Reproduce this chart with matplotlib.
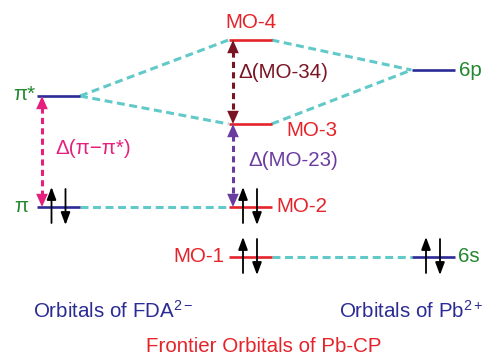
import matplotlib
matplotlib.use("Agg")
import matplotlib.pyplot as plt

plt.rcParams['font.family'] = ['Liberation Sans', 'DejaVu Sans']
plt.rcParams['mathtext.fontset'] = 'custom'
plt.rcParams['mathtext.rm'] = 'Liberation Sans'
plt.rcParams['mathtext.it'] = 'Liberation Sans:italic'

# ---- data (energy units, higher = up) ----
columns = ["FDA", "CP", "Pb"]
column_x = [58.5, 250.0, 433.0]
fda_labels = ["π*", "π"]
fda_levels = [261, 150]
cp_labels = ["MO-4", "MO-3", "MO-2", "MO-1"]
cp_levels = [317, 233, 150, 100]
pb_labels = ["6p", "6s"]
pb_levels = [287, 100]
occupied = [("FDA", 150), ("CP", 150), ("CP", 100), ("Pb", 100)]
# connections (from column, level) -> (to column, level)
links = [(("FDA", 261), ("CP", 317)), (("FDA", 261), ("CP", 233)),
         (("CP", 317), ("Pb", 287)), (("CP", 233), ("Pb", 287)),
         (("FDA", 150), ("CP", 150)), (("CP", 100), ("Pb", 100))]
gaps = [("FDA", 261, 150, "Δ(π−π*)"), ("CP", 317, 233, "Δ(MO-34)"),
        ("CP", 233, 150, "Δ(MO-23)")]

# ---- style ----
RED = "#e5232b"
BLUE = "#2b2b96"
GREEN = "#22882e"
CYAN = "#62c9c9"
PINK = "#e4207c"
DRED = "#7a1422"
PURPLE = "#6b3c9f"
gap_colors = [PINK, DRED, PURPLE]
HALF = 21.5
FS = 14.8

fig = plt.figure(figsize=(4.87, 3.57), dpi=100)
ax = fig.add_axes([0, 0, 1, 1])
ax.set_xlim(0, 487)
ax.set_ylim(0, 357)
ax.axis('off')

cx = dict(zip(columns, column_x))
col_color = {"FDA": BLUE, "CP": RED, "Pb": BLUE}

# connectors
for (c1, e1), (c2, e2) in links:
    ax.plot([cx[c1] + HALF, cx[c2] - HALF], [e1, e2], color=CYAN, lw=2.2,
            dashes=(2.6, 1.5), solid_capstyle='butt', zorder=1)

# levels
for col, levels in (("FDA", fda_levels), ("CP", cp_levels), ("Pb", pb_levels)):
    for e in levels:
        ax.plot([cx[col] - HALF, cx[col] + HALF], [e, e], color=col_color[col],
                lw=1.9, solid_capstyle='butt', zorder=3)

# gap arrows
for (col, e1, e2, lab), c in zip(gaps, gap_colors):
    x = cx[col] - 16.5 if col == "FDA" else cx[col] - 17
    hl = 11
    ax.plot([x, x], [e1 - hl, e2 + hl], color=c, lw=2.2, dashes=(2.0, 1.4),
            solid_capstyle='butt', zorder=2)
    for tip, d in ((e1, 1), (e2, -1)):
        ax.annotate('', xy=(x, tip), xytext=(x, tip - d * (hl + 1)),
                    arrowprops=dict(arrowstyle='-|>,head_length=0.95,head_width=0.42',
                                    lw=0, color=c, shrinkA=0, shrinkB=0),
                    zorder=4)

# electron arrows
for col, e in occupied:
    x0 = cx[col]
    ax.annotate('', xy=(x0 - 7, e + 20), xytext=(x0 - 7, e - 16),
                arrowprops=dict(arrowstyle='-|>,head_length=0.75,head_width=0.28',
                                lw=1.3, color='black', shrinkA=0, shrinkB=0), zorder=5)
    ax.annotate('', xy=(x0 + 7, e - 18), xytext=(x0 + 7, e + 18),
                arrowprops=dict(arrowstyle='-|>,head_length=0.75,head_width=0.28',
                                lw=1.3, color='black', shrinkA=0, shrinkB=0), zorder=5)

# level labels
ax.text(35, 357 - 94, fda_labels[0], color=GREEN, fontsize=FS, ha='right', va='center')
ax.text(28, 357 - 206, fda_labels[1], color=GREEN, fontsize=FS, ha='right', va='center')
ax.text(251, 357 - 23, cp_labels[0], color=RED, fontsize=FS, ha='center', va='center')
ax.text(286, 357 - 131, cp_labels[1], color=RED, fontsize=FS, ha='left', va='center')
ax.text(276, 357 - 206, cp_labels[2], color=RED, fontsize=FS, ha='left', va='center')
ax.text(224, 357 - 257, cp_labels[3], color=RED, fontsize=FS, ha='right', va='center')
ax.text(459, 357 - 70, pb_labels[0], color=GREEN, fontsize=FS, ha='left', va='center')
ax.text(458, 357 - 257, pb_labels[1], color=GREEN, fontsize=FS, ha='left', va='center')

# gap labels
ax.text(55, 357 - 148, gaps[0][3], color=PINK, fontsize=FS, ha='left', va='center')
ax.text(238, 357 - 73, gaps[1][3], color=DRED, fontsize=FS, ha='left', va='center')
ax.text(248, 357 - 160, gaps[2][3], color=PURPLE, fontsize=FS, ha='left', va='center')

# group labels
ax.text(33, 357 - 311, "Orbitals of FDA$^{2-}$", color=BLUE, fontsize=FS, ha='left', va='center')
ax.text(484, 357 - 311, "Orbitals of Pb$^{2+}$", color=BLUE, fontsize=FS, ha='right', va='center')
ax.text(146, 357 - 347, "Frontier Orbitals of Pb-CP", color=RED, fontsize=FS, ha='left', va='center')

fig.savefig("out.png", dpi=100)
